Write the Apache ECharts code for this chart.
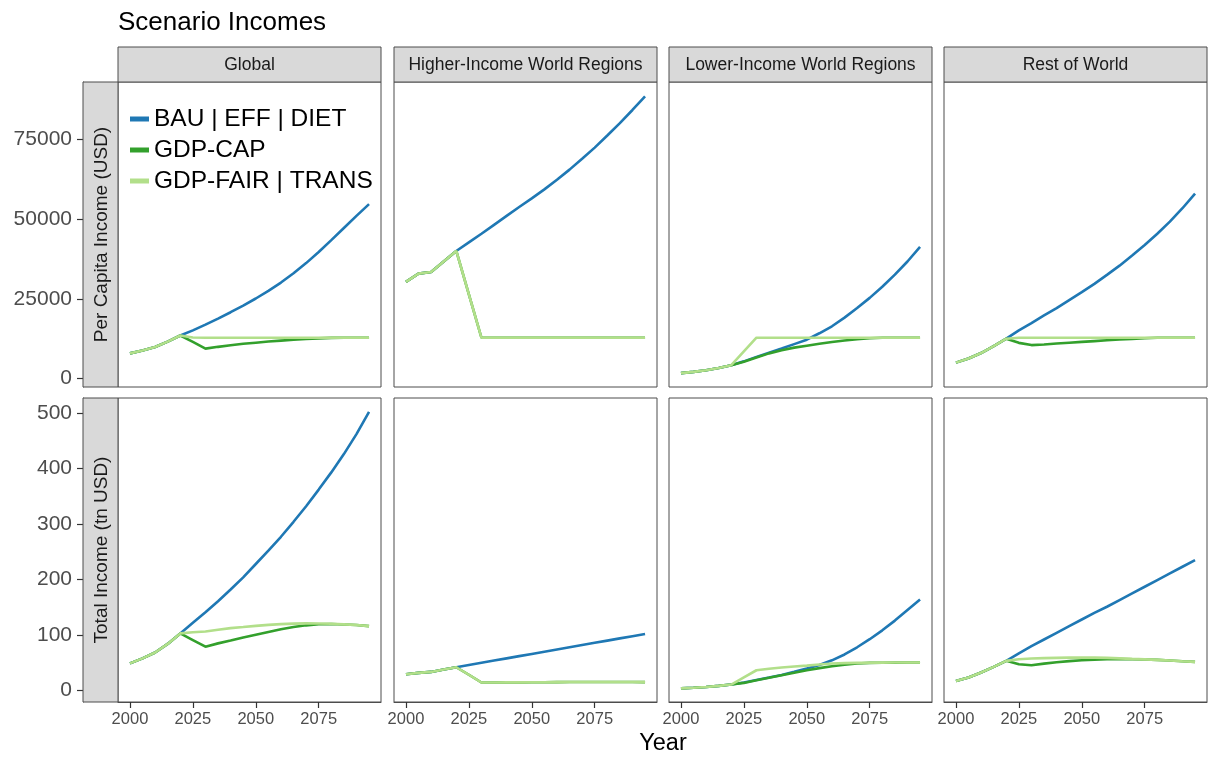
<!DOCTYPE html>
<html>
<head>
<meta charset="utf-8">
<script src="https://cdn.jsdelivr.net/npm/echarts@6/dist/echarts.min.js"></script>
<style>
  html, body { margin: 0; padding: 0; background: #ffffff; }
  #chart { width: 1208px; height: 758px; }
</style>
</head>
<body>
<div id="chart"></div>
<script>
// ---- data -------------------------------------------------------------
const years = [2000, 2005, 2010, 2015, 2020, 2025, 2030, 2035, 2040, 2045,
               2050, 2055, 2060, 2065, 2070, 2075, 2080, 2085, 2090, 2095];
const regions = ['Global', 'Higher-Income World Regions', 'Lower-Income World Regions', 'Rest of World'];
const measures = ['Per Capita Income (USD)', 'Total Income (tn USD)'];
const scenarios = ['BAU | EFF | DIET', 'GDP-CAP', 'GDP-FAIR | TRANS'];
const xTicks = [2000, 2025, 2050, 2075];
const yTicksPerCapita = [0, 25000, 50000, 75000];
const yTicksTotal = [0, 100, 200, 300, 400, 500];

// Per capita income (USD)
const pcGlobalBau  = [7900, 8800, 9900, 11600, 13500, 15100, 16900, 18800, 20800, 22900, 25100, 27500, 30100, 33000, 36200, 39700, 43400, 47200, 51000, 54700];
const pcGlobalCap  = [7900, 8800, 9900, 11600, 13500, 11500, 9400, 9950, 10450, 10900, 11250, 11600, 11900, 12150, 12400, 12600, 12750, 12800, 12800, 12800];
const pcGlobalFair = [7900, 8800, 9900, 11600, 13500, 12900, 12800, 12800, 12800, 12800, 12800, 12800, 12800, 12800, 12800, 12800, 12800, 12800, 12800, 12800];

const pcHigherBau  = [30300, 32900, 33400, 36700, 40000, 42700, 45400, 48200, 51000, 53800, 56500, 59300, 62300, 65500, 68900, 72400, 76200, 80100, 84200, 88500];
const pcHigherCap  = [30300, 32900, 33400, 36700, 40000, 26400, 12800, 12800, 12800, 12800, 12800, 12800, 12800, 12800, 12800, 12800, 12800, 12800, 12800, 12800];
const pcHigherFair = [30300, 32900, 33400, 36700, 40000, 26400, 12800, 12800, 12800, 12800, 12800, 12800, 12800, 12800, 12800, 12800, 12800, 12800, 12800, 12800];

const pcLowerBau   = [1700, 2100, 2600, 3300, 4200, 5400, 6800, 8100, 9400, 10800, 12200, 14200, 16400, 19100, 22100, 25300, 28800, 32600, 36700, 41300];
const pcLowerCap   = [1700, 2100, 2600, 3300, 4200, 5300, 6600, 7900, 8900, 9700, 10300, 10900, 11450, 11950, 12350, 12650, 12800, 12800, 12800, 12800];
const pcLowerFair  = [1700, 2100, 2600, 3300, 4200, 8500, 12800, 12800, 12800, 12800, 12800, 12800, 12800, 12800, 12800, 12800, 12800, 12800, 12800, 12800];

const pcRestBau    = [5000, 6300, 8000, 10200, 12500, 15100, 17400, 19800, 22100, 24600, 27100, 29700, 32500, 35400, 38600, 41900, 45400, 49200, 53400, 58000];
const pcRestCap    = [5000, 6300, 8000, 10200, 12500, 11200, 10500, 10700, 11000, 11250, 11500, 11750, 12000, 12250, 12450, 12650, 12800, 12800, 12800, 12800];
const pcRestFair   = [5000, 6300, 8000, 10200, 12500, 12800, 12800, 12800, 12800, 12800, 12800, 12800, 12800, 12800, 12800, 12800, 12800, 12800, 12800, 12800];

// Total income (tn USD)
const totGlobalBau  = [49, 58, 68.6, 84, 103, 122, 141, 161, 182, 204, 228, 252, 277, 304, 332, 362, 393, 426, 462, 502];
const totGlobalCap  = [49, 58, 68.6, 84, 103, 91, 79, 85, 90, 95.5, 100.5, 105.5, 110.5, 114.5, 117.5, 119.5, 120, 119, 118, 116];
const totGlobalFair = [49, 58, 68.6, 84, 103, 105, 106.5, 109.5, 112.5, 114.5, 116.6, 118.3, 119.7, 120.5, 121, 120.8, 120.3, 119.3, 118, 116];

const totHigherBau  = [29.4, 31.8, 33.6, 37.9, 42, 46, 50, 54, 58, 62, 66, 70, 74, 78, 82, 86, 90, 94, 98, 102];
const totHigherCap  = [29.4, 31.8, 33.6, 37.9, 42, 28.5, 14.5, 14.6, 14.7, 14.8, 15, 15.1, 15.2, 15.3, 15.3, 15.4, 15.4, 15.4, 15.3, 15.2];
const totHigherFair = [29.4, 31.8, 33.6, 37.9, 42, 28.5, 14.5, 14.6, 14.7, 14.8, 15, 15.1, 15.2, 15.3, 15.3, 15.4, 15.4, 15.4, 15.3, 15.2];

const totLowerBau   = [4, 5, 6.5, 8.5, 10.8, 14.5, 19, 23.5, 28.2, 33.7, 39.7, 46, 54.5, 65, 78, 92.5, 108.5, 126, 145, 164];
const totLowerCap   = [4, 5, 6.5, 8.5, 10.8, 13.8, 18.6, 23.2, 27.6, 32.2, 36.6, 40.4, 43.9, 46.5, 48.7, 49.8, 50.2, 50.4, 50.5, 50.5];
const totLowerFair  = [4, 5, 6.5, 8.5, 10.8, 23.7, 36.6, 39.2, 41.5, 43.3, 45, 46.9, 48.7, 49.4, 49.9, 50.2, 50.4, 50.5, 50.5, 50.5];

const totRestBau    = [17.4, 23.5, 32.5, 42.7, 53.5, 67, 80, 92, 104, 116, 128, 140, 151, 163, 175, 187, 199, 211, 223, 235];
const totRestCap    = [17.4, 23.5, 32.5, 42.7, 53.5, 47.5, 45.7, 48.5, 51, 53, 54.7, 55.7, 56.5, 56.7, 56.5, 56, 55.3, 54.2, 52.9, 51.7];
const totRestFair   = [17.4, 23.5, 32.5, 42.7, 53.5, 56.5, 57.8, 58.5, 58.9, 59.3, 59.5, 59.3, 58.9, 58, 57, 56.2, 55.3, 54.2, 52.9, 51.7];

// ---- layout & style ---------------------------------------------------
const lineColors = ['#1f78b4', '#33a02c', '#b2df8a'];
const FONT = '"Liberation Sans", Arial, Helvetica, sans-serif';
const colLeft = [118, 394, 669, 944];
const panelW = 263;
const rowTop = [82, 398];
const panelH = [305, 304];
const stripTop = 47, stripH = 35;
const rowStripLeft = 83;
const yRanges = [[-2640, 92970], [-20.6, 527]];
const xRange = [1995.25, 2099.75];
const borderColor = '#4d4d4d';
const tickColor = '#333333';

const panelSeries = [
  [[pcGlobalBau, pcGlobalCap, pcGlobalFair], [pcHigherBau, pcHigherCap, pcHigherFair],
   [pcLowerBau, pcLowerCap, pcLowerFair], [pcRestBau, pcRestCap, pcRestFair]],
  [[totGlobalBau, totGlobalCap, totGlobalFair], [totHigherBau, totHigherCap, totHigherFair],
   [totLowerBau, totLowerCap, totLowerFair], [totRestBau, totRestCap, totRestFair]]
];
const yTickSets = [yTicksPerCapita, yTicksTotal];

const grids = [], xAxes = [], yAxes = [], series = [], graphics = [];

for (let r = 0; r < 2; r++) {
  for (let c = 0; c < 4; c++) {
    const idx = r * 4 + c;
    grids.push({
      left: colLeft[c], top: rowTop[r], width: panelW, height: panelH[r],
      show: true, backgroundColor: '#ffffff', borderColor: borderColor, borderWidth: 1
    });
    xAxes.push({
      type: 'value', gridIndex: idx, min: xRange[0], max: xRange[1],
      show: r === 1,
      splitLine: { show: false },
      axisLine: { show: true, onZero: false, lineStyle: { color: borderColor, width: 1 } },
      axisTick: { show: true, length: 6, customValues: xTicks, lineStyle: { color: tickColor, width: 1.2 } },
      axisLabel: {
        customValues: xTicks, margin: 9, fontSize: 16.5, color: '#4d4d4d', fontFamily: FONT,
        formatter: v => String(v)
      }
    });
    yAxes.push({
      type: 'value', gridIndex: idx, min: yRanges[r][0], max: yRanges[r][1],
      show: c === 0,
      offset: colLeft[0] - rowStripLeft,
      splitLine: { show: false },
      axisLine: { show: true, onZero: false, lineStyle: { color: borderColor, width: 1 } },
      axisTick: { show: true, length: 6, customValues: yTickSets[r], lineStyle: { color: tickColor, width: 1.2 } },
      axisLabel: {
        customValues: yTickSets[r], margin: 11, fontSize: 21, color: '#4d4d4d', fontFamily: FONT,
        formatter: v => String(v)
      }
    });
    panelSeries[r][c].forEach((values, s) => {
      series.push({
        type: 'line', name: scenarios[s], xAxisIndex: idx, yAxisIndex: idx,
        data: years.map((y, k) => [y, values[k]]),
        showSymbol: false, symbol: 'none', silent: true, z: 2 + s,
        lineStyle: { width: 2.6, color: lineColors[s] },
        itemStyle: { color: lineColors[s] }
      });
    });
  }
}

// Column strips (region names)
regions.forEach((name, c) => {
  graphics.push({
    type: 'rect', z: 5,
    shape: { x: colLeft[c], y: stripTop, width: panelW, height: stripH },
    style: { fill: '#d9d9d9', stroke: borderColor, lineWidth: 1 }
  });
  graphics.push({
    type: 'text', z: 6,
    x: colLeft[c] + panelW / 2, y: stripTop + stripH / 2 + 1,
    style: { text: name, font: '17.5px ' + FONT, fill: '#1a1a1a', textAlign: 'center', textVerticalAlign: 'middle' }
  });
});

// Row strips (measure names)
measures.forEach((name, r) => {
  graphics.push({
    type: 'rect', z: 5,
    shape: { x: rowStripLeft, y: rowTop[r], width: colLeft[0] - rowStripLeft, height: panelH[r] },
    style: { fill: '#d9d9d9', stroke: borderColor, lineWidth: 1 }
  });
  graphics.push({
    type: 'text', z: 6,
    x: (rowStripLeft + colLeft[0]) / 2 + 1, y: rowTop[r] + panelH[r] / 2,
    rotation: Math.PI / 2,
    style: { text: name, font: '19px ' + FONT, fill: '#1a1a1a', textAlign: 'center', textVerticalAlign: 'middle' }
  });
});

// Title and x-axis name
graphics.push({
  type: 'text', z: 6, x: 118, y: 23,
  style: { text: 'Scenario Incomes', font: '26px ' + FONT, fill: '#000000', textAlign: 'left', textVerticalAlign: 'middle' }
});
graphics.push({
  type: 'text', z: 6, x: 663, y: 744,
  style: { text: 'Year', font: '23.5px ' + FONT, fill: '#000000', textAlign: 'center', textVerticalAlign: 'middle' }
});

const chart = echarts.init(document.getElementById('chart'), null, { renderer: 'canvas' });
chart.setOption({
  animation: false,
  backgroundColor: '#ffffff',
  grid: grids,
  xAxis: xAxes,
  yAxis: yAxes,
  series: series,
  legend: {
    data: scenarios,
    orient: 'vertical',
    left: 130, top: 103.5,
    padding: 0, itemGap: 0,
    itemWidth: 19, itemHeight: 5,
    icon: 'rect',
    selectedMode: false,
    textStyle: { fontSize: 24.5, color: '#000000', fontFamily: FONT, lineHeight: 31 }
  },
  graphic: graphics
});
</script>
</body>
</html>
